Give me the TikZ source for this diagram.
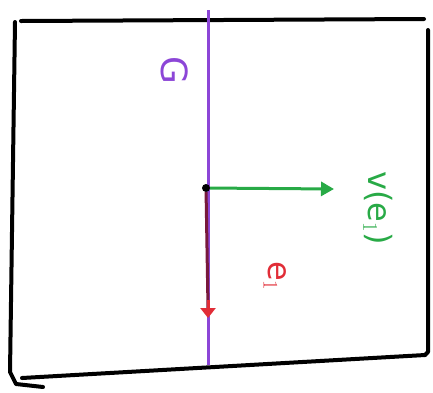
\documentclass[tikz,border=0pt]{standalone}
\usepackage{fontspec}
\setmainfont{DejaVu Sans}
\usetikzlibrary{arrows.meta}
\definecolor{gpurple}{RGB}{140,70,215}
\definecolor{vgreen}{RGB}{40,170,70}
\definecolor{ered}{RGB}{225,45,55}
\definecolor{emaroon}{RGB}{120,25,60}
\begin{document}
\begin{tikzpicture}[x=1pt,y=1pt,
  frame/.style={line width=4pt,black,line cap=round,line join=round},
  lbl/.style={font=\fontsize{32}{34}\selectfont,inner sep=0pt,rotate=-90}]
\useasboundingbox (0,0) rectangle (433,-392);
% frame
\coordinate (tl) at (21,-21);
\coordinate (tr) at (424,-19);
\coordinate (rt) at (428,-30);
\coordinate (rb) at (428,-352);
\coordinate (bl) at (22,-378);
\coordinate (br) at (425,-355);
\draw[frame] (tl) -- (tr);
\draw[frame] (rt) -- (rb) -- (br);
\draw[frame] (br) -- (bl);
\draw[frame] (15,-22) -- (10,-372) -- (16,-384) -- (43,-387);
% purple line G
\coordinate (gtop) at (208,-10);
\coordinate (gbot) at (208,-365);
\draw[gpurple,line width=3pt] (gtop) -- (gbot);
% point
\node[circle,fill=black,minimum size=8pt,inner sep=0pt] (o) at (206,-188) {};
% red arrow e1
\coordinate (eend) at (208,-318);
\draw[emaroon,line width=3pt] (o) -- (208,-308);
\draw[ered,line width=3pt,-{Triangle[length=10pt,width=15pt]}] (208,-300) -- (eend);
% green arrow
\coordinate (vend) at (334,-189);
\draw[vgreen,line width=3pt,-{Triangle[length=13pt,width=14pt]}] (o) -- (vend);
% labels
\node[lbl,gpurple,font=\fontsize{36}{38}\selectfont] (G) at (175,-70) {G};
\node[lbl,vgreen] (V) at (378,-208) {v(e$_1$)};
\node[lbl,ered] (E) at (275,-276) {e$_1$};
\end{tikzpicture}
\end{document}
